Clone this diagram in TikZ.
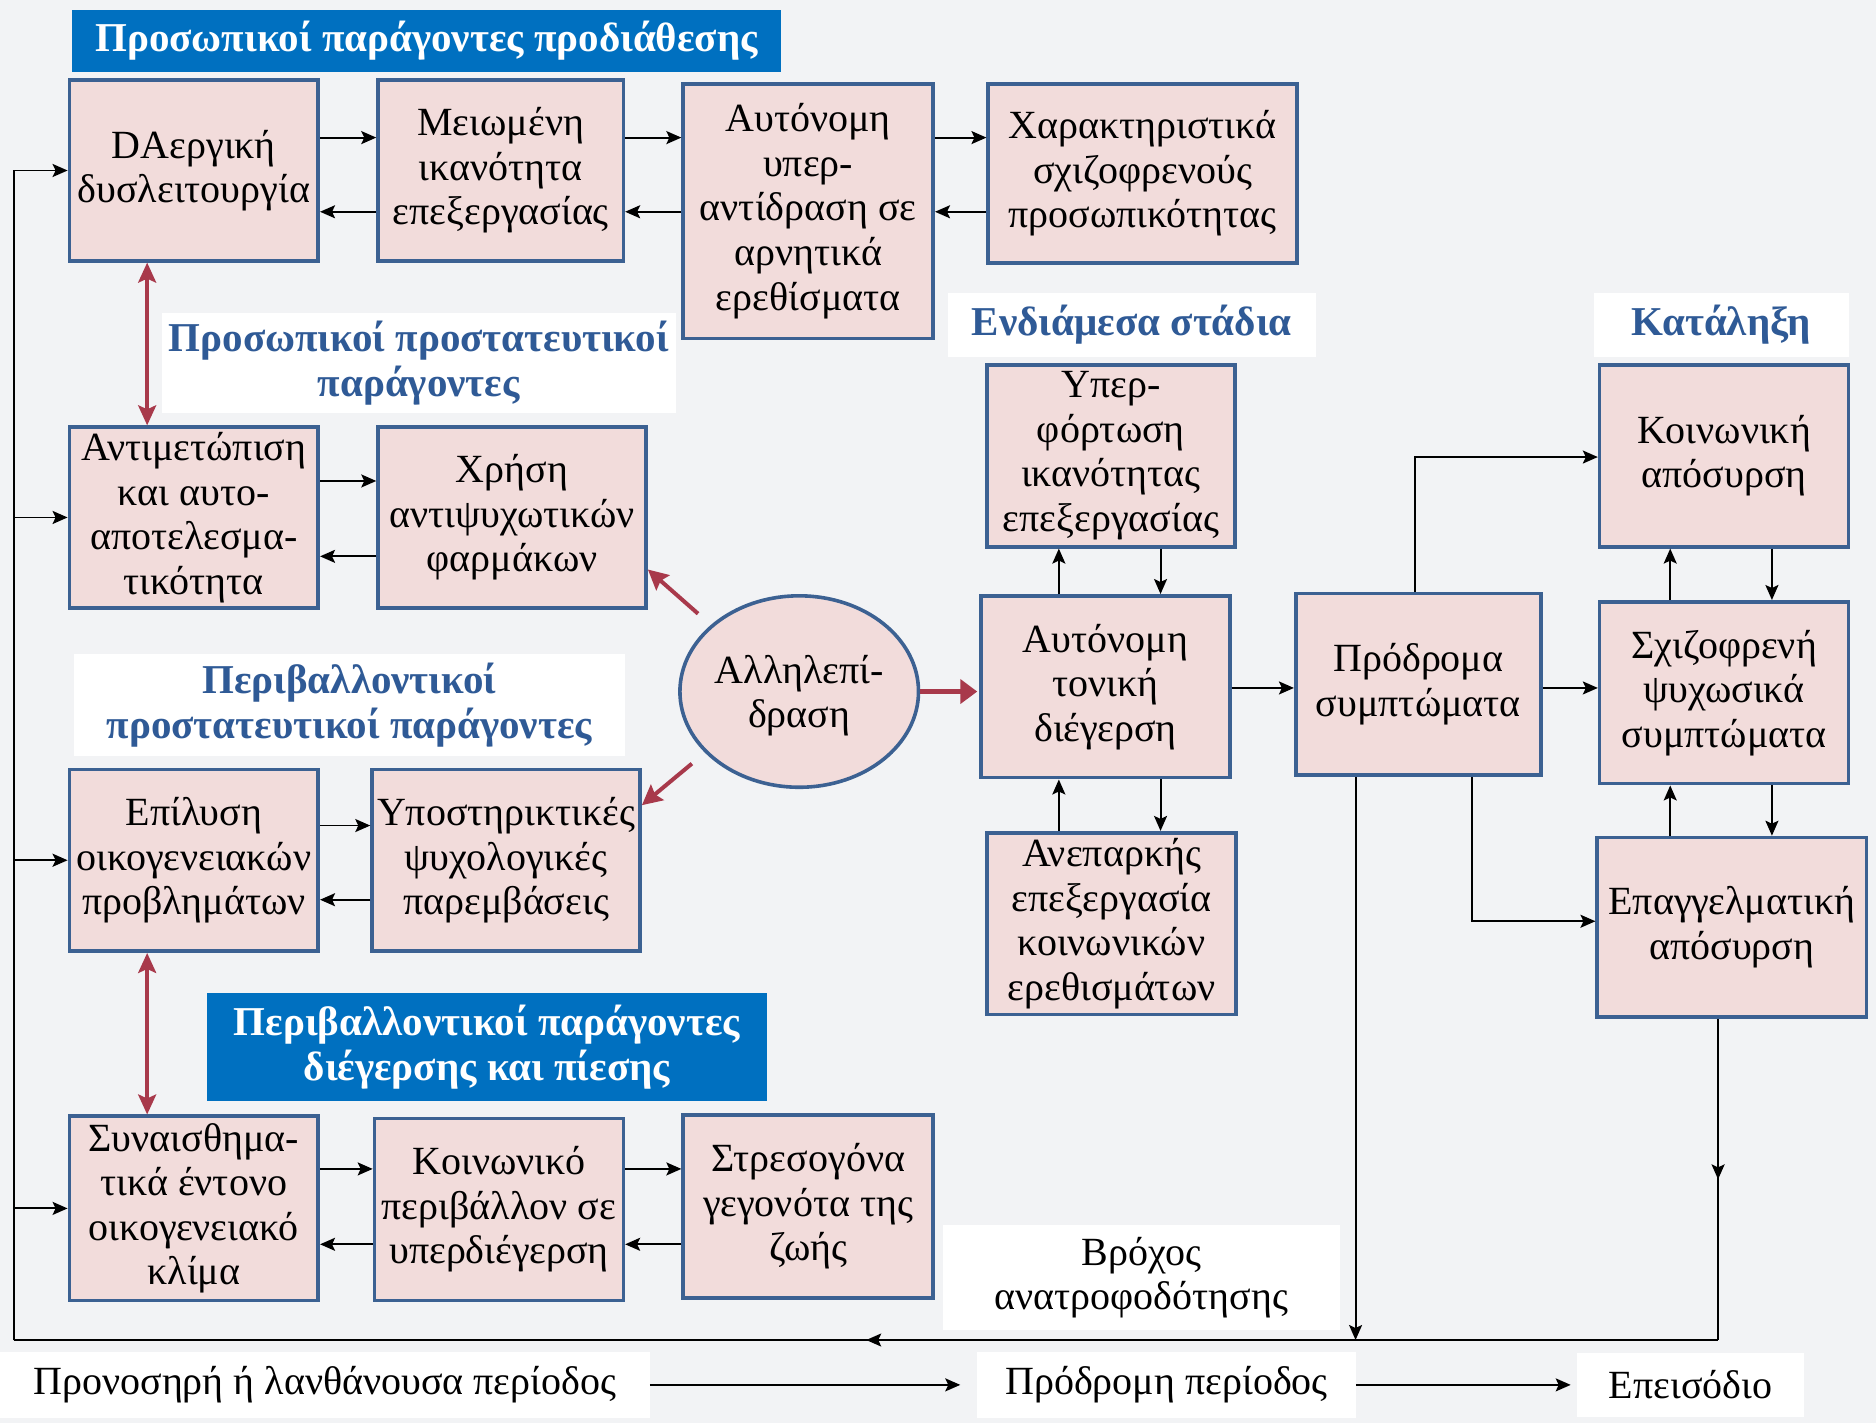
\documentclass[tikz,border=0pt]{standalone}
\usepackage{fontspec}
\setmainfont{Liberation Serif}
\usetikzlibrary{arrows.meta,decorations.markings,shapes.geometric}
\definecolor{boxfill}{HTML}{F2DCDB}
\definecolor{boxline}{HTML}{3C6192}
\definecolor{titlefill}{HTML}{0070C0}
\definecolor{headblue}{HTML}{2F5A96}
\definecolor{redc}{HTML}{A8394B}
\definecolor{bgc}{HTML}{F2F3F5}
\newcommand\bxfont{\fontsize{40}{44.5}\selectfont}
\newcommand\hdfont{\bfseries\fontsize{41}{44.5}\selectfont}
\newcommand\lbfont{\fontsize{40}{44}\selectfont}
% \rect[style]{name}{x1}{y1}{x2}{y2}{text}
\newcommand\rect[7][]{\node[#1, minimum width={(#5-#3)*1.1964pt}, minimum height={(#6-#4)*1.1964pt}] (#2) at ({(#3+#5)/2},{(#4+#6)/2}) {#7};}
\tikzset{
  box/.style={draw=boxline, fill=boxfill, line width=3.6pt, inner sep=0pt, align=center, font=\bxfont},
  titlebox/.style={fill=titlefill, inner sep=0pt, align=center, text=white, font=\hdfont},
  headlbl/.style={fill=white, inner sep=0pt, align=center, text=headblue, font=\hdfont},
  plainlbl/.style={fill=white, inner sep=0pt, align=center, font=\lbfont},
  arr/.style={line width=1.9pt, -{Stealth[length=15pt,width=13pt,inset=3pt]}},
  loopl/.style={line width=1.9pt},
  midarr/.style={postaction={decorate}, decoration={markings, mark=at position 0.5 with {\arrow{Stealth[length=15pt,width=13pt,inset=3pt]}}}},
  redarr/.style={draw=redc, line width=4pt, -{Stealth[length=20pt,width=20pt,inset=3pt]}},
  reddbl/.style={draw=redc, line width=3.5pt, {Stealth[length=20pt,width=18pt,inset=4pt]}-{Stealth[length=20pt,width=18pt,inset=4pt]}},
  redright/.style={draw=redc, line width=5pt, -{Triangle[length=17pt,width=24pt]}},
}
\begin{document}
\begin{tikzpicture}[x=1.1964pt,y=-1.1964pt]
\useasboundingbox (0,0) rectangle (1568,1189);
\fill[bgc] (0,0) rectangle (1568,1189);

% headings
\rect[titlebox]{t1}{60}{8}{653}{60}{Προσωπικοί παράγοντες προδιάθεσης}
\rect[titlebox]{t2}{173}{830}{641}{920}{Περιβαλλοντικοί παράγοντες\\διέγερσης και πίεσης}
\rect[headlbl]{h1}{135}{262}{565}{345}{Προσωπικοί προστατευτικοί\\παράγοντες}
\rect[headlbl]{h2}{62}{547}{522}{632}{Περιβαλλοντικοί\\προστατευτικοί παράγοντες}
\rect[headlbl]{h3}{792}{245}{1100}{298}{Ενδιάμεσα στάδια}
\rect[headlbl]{h4}{1332}{245}{1545}{298}{Κατάληξη}
\rect[plainlbl]{fb}{788}{1024}{1120}{1112}{Βρόχος\\ανατροφοδότησης}
\rect[plainlbl]{p1}{0}{1130}{543}{1185}{Προνοσηρή ή λανθάνουσα περίοδος}
\rect[plainlbl]{p2}{817}{1130}{1133}{1185}{Πρόδρομη περίοδος}
\rect[plainlbl]{p3}{1318}{1131}{1508}{1184}{Επεισόδιο}

% boxes
\rect[box]{b1}{58}{67}{266}{218}{DAεργική\\δυσλειτουργία}
\rect[box]{b2}{316}{67}{521}{218}{Μειωμένη\\ικανότητα\\επεξεργασίας}
\rect[box]{b3}{571}{70}{780}{283}{Αυτόνομη\\υπερ-\\αντίδραση σε\\αρνητικά\\ερεθίσματα}
\rect[box]{b4}{826}{70}{1084}{220}{Χαρακτηριστικά\\σχιζοφρενούς\\προσωπικότητας}
\rect[box]{b5}{58}{357}{266}{508}{Αντιμετώπιση\\και αυτο-\\αποτελεσμα-\\τικότητα}
\rect[box]{b6}{316}{357}{540}{508}{Χρήση\\αντιψυχωτικών\\φαρμάκων}
\rect[box]{b7}{58}{643}{266}{795}{Επίλυση\\οικογενειακών\\προβλημάτων}
\rect[box]{b8}{311}{643}{535}{795}{Υποστηρικτικές\\ψυχολογικές\\παρεμβάσεις}
\rect[box]{b9}{58}{933}{266}{1087}{Συναισθημα-\\τικά έντονο\\οικογενειακό\\κλίμα}
\rect[box]{b10}{313}{935}{521}{1087}{Κοινωνικό\\περιβάλλον σε\\υπερδιέγερση}
\rect[box]{b11}{571}{932}{780}{1085}{Στρεσογόνα\\γεγονότα της\\ζωής}
\rect[box]{b12}{825}{305}{1032}{457}{Υπερ-\\φόρτωση\\ικανότητας\\επεξεργασίας}
\rect[box]{b13}{820}{498}{1028}{650}{Αυτόνομη\\τονική\\διέγερση}
\rect[box]{b14}{825}{696}{1033}{848}{Ανεπαρκής\\επεξεργασία\\κοινωνικών\\ερεθισμάτων}
\rect[box]{b15}{1083}{496}{1288}{648}{Πρόδρομα\\συμπτώματα}
\rect[box]{b16}{1337}{305}{1545}{457}{Κοινωνική\\απόσυρση}
\rect[box]{b17}{1337}{503}{1545}{655}{Σχιζοφρενή\\ψυχωσικά\\συμπτώματα}
\rect[box]{b18}{1335}{700}{1560}{850}{Επαγγελματική\\απόσυρση}
\node[box, ellipse, minimum width=192*1.1964pt, minimum height=160*1.1964pt, text depth=-8pt] (ell) at (668,578) {Αλληλεπί-\\δραση};

% horizontal pairs
\draw[arr] (b1.east |- 0,115) -- (b2.west |- 0,115);
\draw[arr] (b2.west |- 0,177) -- (b1.east |- 0,177);
\draw[arr] (b2.east |- 0,115) -- (b3.west |- 0,115);
\draw[arr] (b3.west |- 0,177) -- (b2.east |- 0,177);
\draw[arr] (b3.east |- 0,115) -- (b4.west |- 0,115);
\draw[arr] (b4.west |- 0,177) -- (b3.east |- 0,177);
\draw[arr] (b5.east |- 0,402) -- (b6.west |- 0,402);
\draw[arr] (b6.west |- 0,465) -- (b5.east |- 0,465);
\draw[arr] (b7.east |- 0,690) -- (b8.west |- 0,690);
\draw[arr] (b8.west |- 0,752) -- (b7.east |- 0,752);
\draw[arr] (b9.east |- 0,977) -- (b10.west |- 0,977);
\draw[arr] (b10.west |- 0,1040) -- (b9.east |- 0,1040);
\draw[arr] (b10.east |- 0,977) -- (b11.west |- 0,977);
\draw[arr] (b11.west |- 0,1040) -- (b10.east |- 0,1040);

% right side
\draw[arr] (b13.north -| 885,0) -- (b12.south -| 885,0);
\draw[arr] (b12.south -| 970,0) -- (b13.north -| 970,0);
\draw[arr] (b14.north -| 885,0) -- (b13.south -| 885,0);
\draw[arr] (b13.south -| 970,0) -- (b14.north -| 970,0);
\draw[arr] (b13.east |- 0,575) -- (b15.west |- 0,575);
\draw[arr] (b15.east |- 0,575) -- (b17.west |- 0,575);
\draw[arr] (b17.north -| 1396,0) -- (b16.south -| 1396,0);
\draw[arr] (b16.south -| 1481,0) -- (b17.north -| 1481,0);
\draw[arr] (b18.north -| 1396,0) -- (b17.south -| 1396,0);
\draw[arr] (b17.south -| 1481,0) -- (b18.north -| 1481,0);
\draw[arr] (b15.north -| 1183,0) |- (b16.west |- 0,382);
\draw[arr] (b15.south -| 1230,0) |- (b18.west |- 0,770);

% red arrows
\draw[reddbl] (b1.south -| 123,0) -- (b5.north -| 123,0);
\draw[reddbl] (b7.south -| 123,0) -- (b9.north -| 123,0);
\draw[redarr, shorten <=17pt] (ell.143.5) -- (b6.east |- 0,476);
\draw[redarr, shorten <=17pt] (ell.213.3) -- (b8.east |- 0,673);
\draw[redright, shorten >=2pt] (ell.east) -- (ell.east -| b13.west);

% feedback loop
\coordinate (lr) at (1436,1120);
\coordinate (ll) at (12,1120);
\coordinate (lm) at (1133,1120);
\draw[loopl, midarr] (b18.south -| lr) -- (lr);
\draw[loopl, midarr] (lr) -- (ll);
\draw[arr] (b15.south -| lm) -- (lm);
\draw[arr] (ll) |- (b1.west);
\draw[arr] (ll) |- (b5.west);
\draw[arr] (ll) |- (b7.west);
\draw[arr] (ll) |- (b9.west);

% period arrows
\draw[arr, shorten >=17pt] (p1.east) -- (p2.west);
\draw[arr, shorten >=6pt] (p2.east) -- (p3.west);
\end{tikzpicture}
\end{document}
